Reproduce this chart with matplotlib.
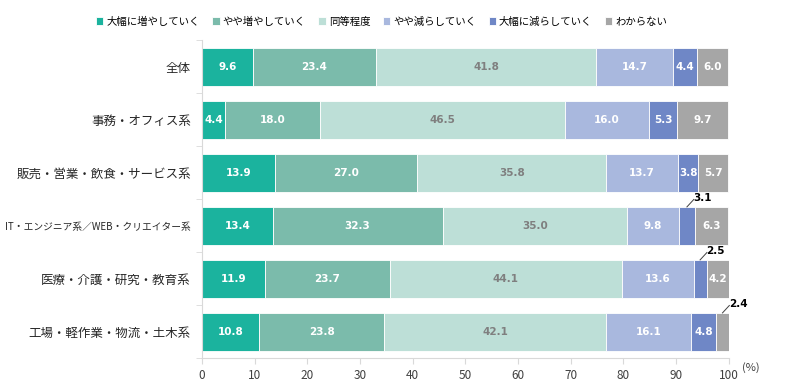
import matplotlib
matplotlib.use("Agg")
import matplotlib.pyplot as plt
import numpy as np

plt.rcParams['font.family'] = ['Noto Sans CJK JP', 'DejaVu Sans']

categories = ['全体', '事務・オフィス系', '販売・営業・飲食・サービス系',
              'IT・エンジニア系／WEB・クリエイター系', '医療・介護・研究・教育系',
              '工場・軽作業・物流・土木系']
series = ['大幅に増やしていく', 'やや増やしていく', '同等程度',
          'やや減らしていく', '大幅に減らしていく', 'わからない']
values = [
    [9.6, 4.4, 13.9, 13.4, 11.9, 10.8],
    [23.4, 18.0, 27.0, 32.3, 23.7, 23.8],
    [41.8, 46.5, 35.8, 35.0, 44.1, 42.1],
    [14.7, 16.0, 13.7, 9.8, 13.6, 16.1],
    [4.4, 5.3, 3.8, 3.1, 2.5, 4.8],
    [6.0, 9.7, 5.7, 6.3, 4.2, 2.4],
]
colors = ['#1bb39e', '#7bbbab', '#bddfd7', '#a9b8de', '#6f87c6', '#a6a6a6']
label_colors = ['white', 'white', '#7f7f7f', 'white', 'white', 'white']
outside_min = 3.2  # values below this go outside with a leader line

fig = plt.figure(figsize=(8, 3.9), dpi=100)
ax = fig.add_axes([0.2525, 0.0808, 0.6585, 0.8154])

y = np.arange(len(categories))
left = np.zeros(len(categories))
handles = []
for s, vals in enumerate(values):
    vals = np.array(vals)
    h = ax.barh(y, vals, left=left, height=0.72, color=colors[s],
                edgecolor='white', linewidth=0.6, label=series[s])
    handles.append(h)
    for i, v in enumerate(vals):
        cx = left[i] + v / 2
        if v < outside_min:
            ax.plot([cx, cx + 1.3], [y[i] - 0.36, y[i] - 0.5], color='#404040', lw=0.7,
                    clip_on=False)
            ax.text(cx + 1.2, y[i] - 0.52, f'{v:.1f}', ha='left', va='center',
                    fontsize=7.5, fontweight='bold', color='black',
                    family='DejaVu Sans')
        else:
            ax.text(cx, y[i], f'{v:.1f}', ha='center', va='center', fontsize=7.5,
                    fontweight='bold', color=label_colors[s], family='DejaVu Sans')
    left += vals

ax.set_xlim(0, 100)
ax.set_ylim(len(categories) - 0.5, -0.5)
ax.set_xticks(range(0, 101, 10))
ax.set_yticks(y)
ax.set_yticklabels(categories, fontsize=9, color='#262626')
# the long IT label has to be smaller to fit in the left margin
ax.get_yticklabels()[3].set_fontsize(7)
ax.set_yticks(np.arange(-0.5, len(categories), 1), minor=True)
ax.tick_params(axis='y', which='major', length=0, pad=8)
ax.tick_params(axis='y', which='minor', length=4, color='#d9d9d9')
ax.tick_params(axis='x', length=4, color='#d9d9d9', labelsize=8.5, labelcolor='#404040')
for sp in ['top', 'right']:
    ax.spines[sp].set_visible(False)
for sp in ['left', 'bottom']:
    ax.spines[sp].set_color('#d9d9d9')

ax.text(1.025, -0.01, '(%)', transform=ax.transAxes, fontsize=8, color='#404040',
        ha='left', va='top')

fig.legend(handles=handles, labels=series, loc='center', bbox_to_anchor=(0.477, 0.945),
           ncol=6, frameon=False, fontsize=7.5, handlelength=0.7, handleheight=0.7,
           handletextpad=0.3, columnspacing=1.2)

fig.savefig('out.png', dpi=100)
